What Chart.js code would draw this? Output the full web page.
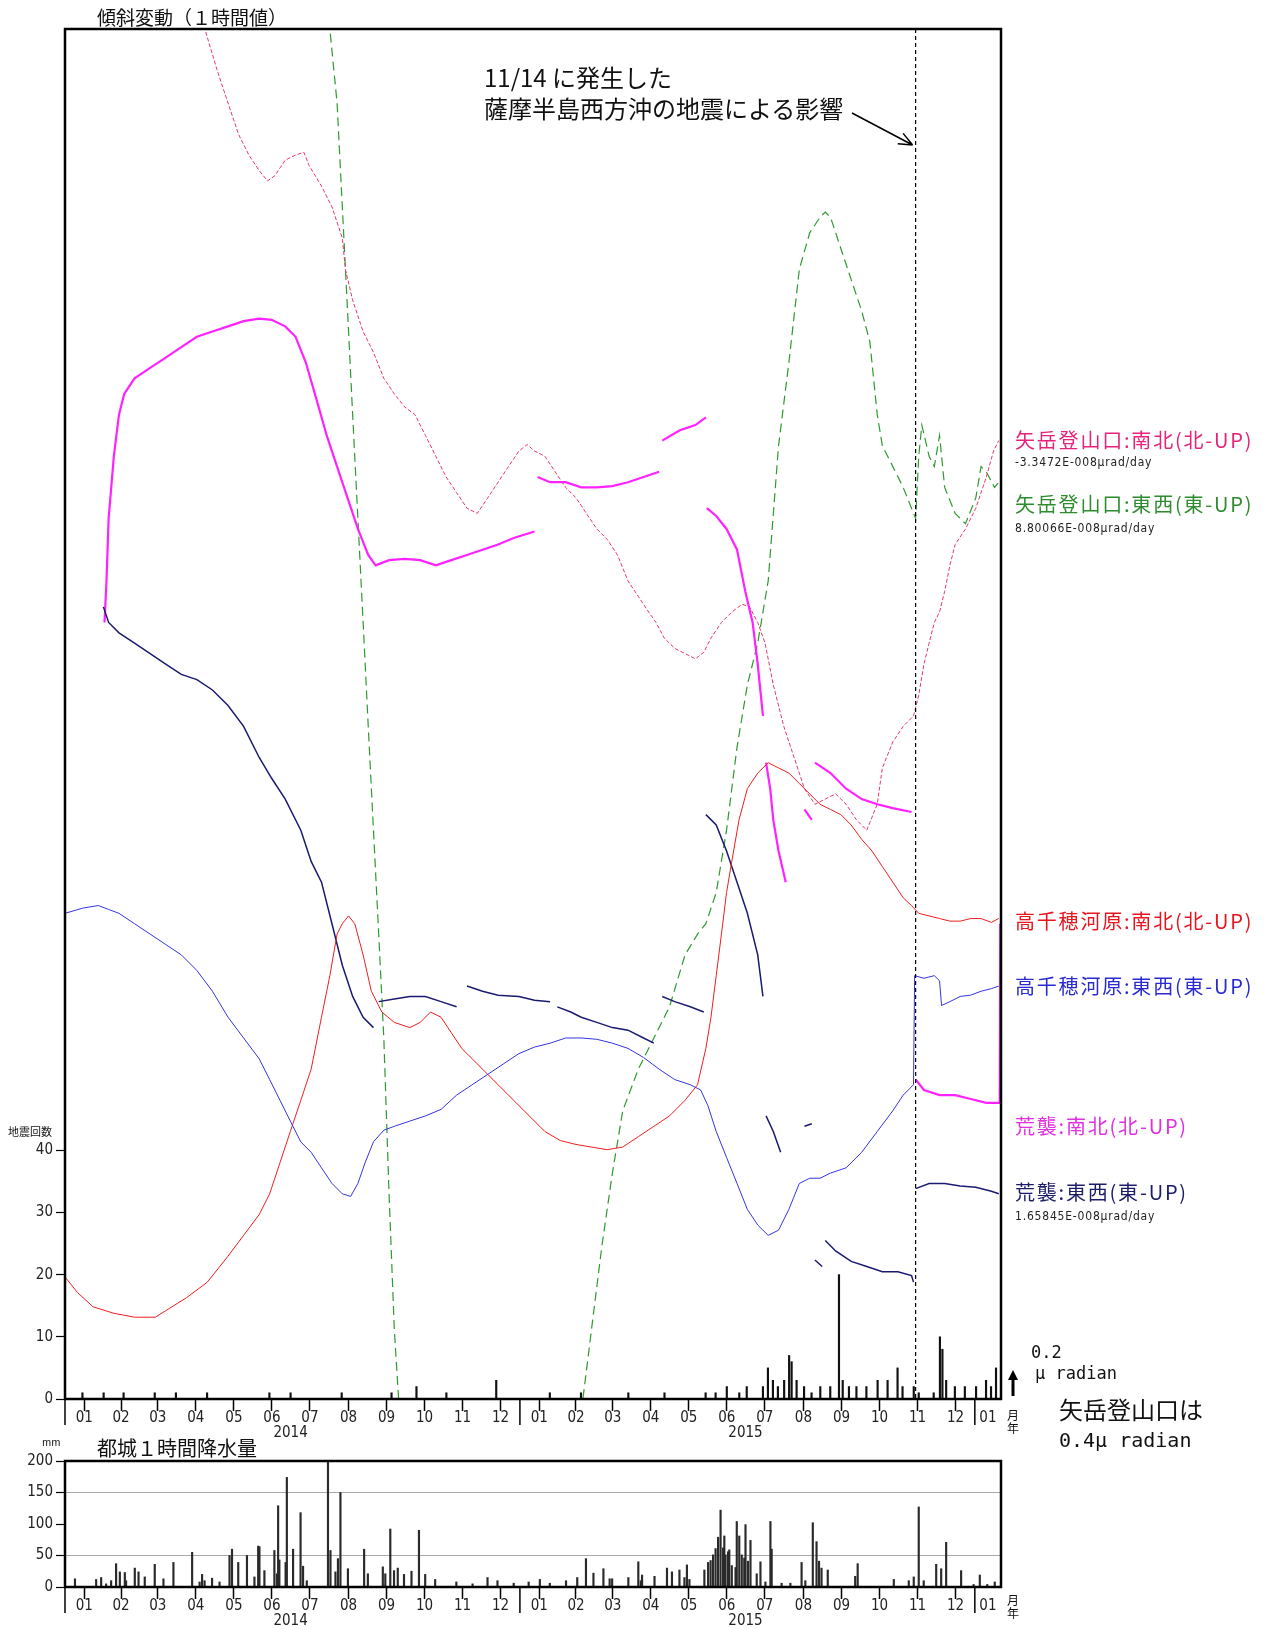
<!DOCTYPE html>
<html>
<head>
<meta charset="utf-8">
<script src="https://cdn.jsdelivr.net/npm/chart.js@4.4.1/dist/chart.umd.min.js"></script>
<style>
  body { margin: 0; background: #fff; width: 1265px; height: 1629px; position: relative; overflow: hidden;
         font-family: "Noto Sans CJK JP", sans-serif; color: #111; }
  canvas { position: absolute; left: 0; }
  .t { position: absolute; white-space: nowrap; line-height: 1; }
  .lg { font-size: 20px; letter-spacing: 1.8px; }
  .sub { font-family: "DejaVu Sans Condensed", sans-serif; font-size: 12px; letter-spacing: 0.8px; color: #222; }
</style>
</head>
<body>
<canvas id="tilt" width="1265" height="1445" style="top:0"></canvas>
<canvas id="rain" width="1265" height="189" style="top:1440px"></canvas>

<div class="t" style="left:97px;top:7px;font-size:19px;">傾斜変動（１時間値）</div>
<div class="t" style="left:484px;top:65px;font-size:24px;">11/14 に発生した</div>
<div class="t" style="left:484px;top:96px;font-size:24px;">薩摩半島西方沖の地震による影響</div>

<div class="t lg" style="left:1015px;top:430px;color:#e6237a;">矢岳登山口:南北(北-UP)</div>
<div class="t sub" style="left:1015px;top:456px;">-3.3472E-008μrad/day</div>
<div class="t lg" style="left:1015px;top:494px;color:#2e8b2e;">矢岳登山口:東西(東-UP)</div>
<div class="t sub" style="left:1015px;top:522px;">8.80066E-008μrad/day</div>
<div class="t lg" style="left:1015px;top:911px;color:#e8141e;">高千穂河原:南北(北-UP)</div>
<div class="t lg" style="left:1015px;top:976px;color:#2a2ad0;">高千穂河原:東西(東-UP)</div>
<div class="t lg" style="left:1015px;top:1116px;color:#e030e0;">荒襲:南北(北-UP)</div>
<div class="t lg" style="left:1015px;top:1182px;color:#1c1c6a;">荒襲:東西(東-UP)</div>
<div class="t sub" style="left:1015px;top:1210px;">1.65845E-008μrad/day</div>

<div class="t" style="left:8px;top:1126px;font-size:11px;">地震回数</div>
<div class="t" style="left:1007px;top:1408px;font-size:12px;line-height:13px;">月<br>年</div>
<div class="t" style="left:1031px;top:1344px;font-size:17px;font-family:'DejaVu Sans Mono',monospace;">0.2</div>
<div class="t" style="left:1035px;top:1365px;font-size:17px;font-family:'DejaVu Sans Mono',monospace;">μ radian</div>
<div class="t" style="left:1059px;top:1397px;font-size:24px;">矢岳登山口は</div>
<div class="t" style="left:1059px;top:1430px;font-size:20px;font-family:'DejaVu Sans Mono',monospace;">0.4μ radian</div>

<div class="t" style="left:42px;top:1437px;font-size:10px;">mm</div>
<div class="t" style="left:97px;top:1438px;font-size:20px;">都城１時間降水量</div>
<div class="t" style="left:1007px;top:1593px;font-size:12px;line-height:13px;">月<br>年</div>

<script>
// days are counted from 2014-01-01
const monthStarts = [0, 31, 59, 90, 120, 151, 181, 212, 243, 273, 304, 334,
                     365, 396, 424, 455, 485, 516, 546, 577, 608, 638, 669, 699, 730];
const monthNames = ['01','02','03','04','05','06','07','08','09','10','11','12',
                    '01','02','03','04','05','06','07','08','09','10','11','12','01'];
const yearMids = [181, 546];
const yearNames = ['2014', '2015'];
const yearStarts = [0, 365, 730];
const dayMax = 751;
const quakeDay = 682.5;   // 2015-11-14
const tiltMax = 10.55;    // micro radian span of the plot
const countMax = 220.3;
const countTicks = [0, 10, 20, 30, 40];
const rainTicks = [0, 50, 100, 150, 200];

// tilt, [day, micro radian offset]
const yatakeNS = [[107.5,10.8],[112.5,10.54],[122.5,10.22],[130.8,9.98],[139.2,9.74],[147.5,9.58],[155.8,9.46],
  [162.5,9.38],[168.3,9.42],[176.7,9.54],[185,9.58],[191.7,9.6],[195.8,9.5],[205.8,9.34],[214.2,9.18],[222.5,8.94],
  [225,8.7],[230.8,8.46],[239.2,8.22],[247.5,8.06],[255.8,7.86],[264.2,7.74],[272.5,7.64],[280.8,7.58],[289.2,7.42],
  [297.5,7.26],[305.8,7.1],[314.2,6.98],[322.5,6.86],[330.8,6.82],[339.2,6.94],[347.5,7.06],[355.8,7.18],[364.2,7.3],
  [370.8,7.35],[376.7,7.3],[385,7.26],[393.3,7.14],[401.7,7.02],[410,6.94],[418.3,6.82],[426.7,6.7],[435,6.62],
  [443.3,6.5],[451.7,6.3],[460,6.18],[468.3,6.06],[474.2,5.98],[480.8,5.86],[489.2,5.78],[497.5,5.74],[505.8,5.7],
  [512.5,5.75],[518.3,5.86],[526.7,5.98],[535,6.06],[543.3,6.12],[549.2,6.1],[555.8,5.98],[561.7,5.82],[568.3,5.5],
  [576.7,5.18],[585,4.94],[593.3,4.7],[601.7,4.58],[610,4.62],[618.3,4.66],[626.7,4.58],[635,4.46],[643.3,4.38],
  [651.7,4.58],[655.8,4.86],[664.2,5.06],[672.5,5.18],[680.8,5.26],[685,5.42],[689.2,5.66],[693.3,5.82],[697.5,5.98],
  [701.7,6.06],[705.8,6.22],[710,6.42],[714.2,6.58],[722.5,6.7],[730.8,6.86],[739.2,7.1],[745,7.3],[749.2,7.38]];

const yatakeEW = [[210.8,10.62],[212.5,10.55],[218.3,9.98],[222.5,9.18],[226.7,8.38],[230.8,7.58],[235,6.78],
  [239.2,5.98],[243.3,5.18],[247.5,4.38],[251.7,3.58],[255.8,2.78],[260,1.58],[264.2,0.54],[268.3,-0.1],[300,null],
  [414.2,-0.1],[415.8,0.02],[422.5,0.54],[430.8,1.18],[439.2,1.74],[447.5,2.22],[460,2.54],[472.5,2.78],[485,3.02],
  [497.5,3.42],[507.5,3.58],[514.2,3.66],[522.5,3.9],[530.8,4.38],[539.2,5.02],[547.5,5.5],[555.8,5.82],[564.2,6.3],
  [572.5,7.34],[580.8,7.98],[589.2,8.7],[597.5,8.98],[605.8,9.1],[610,9.14],[614.2,9.1],[622.5,8.86],[630.8,8.62],
  [639.2,8.38],[645.8,8.14],[651.7,7.58],[655.8,7.34],[664.2,7.18],[672.5,7.02],[679.2,6.86],[682.5,6.78],[685,7.26],
  [687.5,7.5],[693.3,7.26],[697.5,7.18],[701.7,7.42],[705.8,7.02],[714.2,6.82],[722.5,6.74],[730.8,6.94],[735,7.18],
  [739.2,7.14],[745.8,7.02],[749.2,7.06]];

const takachihoNS = [[0,0.94],[10,0.82],[22.5,0.71],[39.2,0.66],[55.8,0.63],[72.5,0.63],[80.8,0.68],[97.5,0.78],
  [114.2,0.9],[130.8,1.1],[143.3,1.26],[155.8,1.42],[164.2,1.58],[172.5,1.82],[180.8,2.06],[189.2,2.3],[197.5,2.54],
  [205.8,2.94],[212.5,3.26],[218.3,3.58],[222.5,3.66],[227.5,3.72],[232.5,3.66],[239.2,3.42],[245.8,3.14],[254.2,2.98],
  [264.2,2.9],[276.7,2.86],[285,2.9],[293.3,2.98],[301.7,2.94],[310,2.82],[318.3,2.7],[326.7,2.62],[335,2.54],
  [347.5,2.42],[360,2.3],[372.5,2.18],[385,2.06],[397.5,1.99],[410,1.96],[422.5,1.94],[435,1.92],[447.5,1.94],
  [460,2.02],[472.5,2.1],[485,2.18],[497.5,2.3],[507.5,2.42],[514.2,2.7],[518.3,2.94],[522.5,3.26],[526.7,3.58],
  [530.8,3.9],[535,4.14],[540.8,4.46],[547.5,4.7],[555.8,4.82],[564.2,4.9],[572.5,4.86],[580.8,4.82],[589.2,4.74],
  [597.5,4.66],[605.8,4.58],[614.2,4.54],[622.5,4.5],[630.8,4.42],[639.2,4.31],[647.5,4.22],[655.8,4.1],[664.2,3.98],
  [672.5,3.86],[679.2,3.8],[685,3.74],[693.3,3.72],[701.7,3.7],[710,3.68],[718.3,3.68],[726.7,3.7],[735,3.7],
  [743.3,3.67],[749.2,3.7]];

const takachihoEW = [[0,3.74],[14.2,3.78],[26.7,3.8],[35,3.77],[43.3,3.74],[55.8,3.66],[68.3,3.58],[80.8,3.5],
  [93.3,3.42],[105.8,3.3],[118.3,3.14],[130.8,2.94],[143.3,2.78],[155.8,2.62],[164.2,2.46],[172.5,2.3],[180.8,2.14],
  [189.2,1.98],[197.5,1.9],[205.8,1.78],[214.2,1.66],[222.5,1.58],[229.2,1.56],[235,1.66],[240.8,1.82],[247.5,1.98],
  [255.8,2.07],[264.2,2.1],[276.7,2.14],[289.2,2.18],[301.7,2.23],[314.2,2.34],[326.7,2.42],[339.2,2.5],[351.7,2.58],
  [364.2,2.66],[376.7,2.71],[389.2,2.74],[401.7,2.78],[414.2,2.78],[426.7,2.77],[439.2,2.74],[451.7,2.7],[464.2,2.63],
  [476.7,2.54],[489.2,2.46],[501.7,2.42],[510,2.38],[515.8,2.26],[522.5,2.06],[530.8,1.86],[539.2,1.66],[547.5,1.46],
  [555.8,1.34],[564.2,1.26],[572.5,1.3],[580.8,1.46],[589.2,1.66],[597.5,1.7],[605.8,1.7],[614.2,1.74],[626.7,1.78],
  [639.2,1.9],[651.7,2.06],[664.2,2.22],[672.5,2.34],[680.8,2.42],[681.7,3.26],[689.2,3.24],[697.5,3.26],[701.7,3.22],
  [703.3,3.03],[710,3.06],[718.3,3.1],[726.7,3.11],[735,3.14],[743.3,3.16],[749.2,3.18]];

const arasouNS = [[31.7,5.98],[33.3,6.3],[35,6.78],[39.2,7.26],[43.3,7.58],[47.5,7.74],[55.8,7.86],[68.3,7.94],
  [80.8,8.02],[93.3,8.1],[105.8,8.18],[118.3,8.22],[130.8,8.26],[143.3,8.3],[155.8,8.32],[165.8,8.31],[176.7,8.26],
  [185,8.18],[193.3,7.98],[201.7,7.7],[210,7.42],[218.3,7.18],[226.7,6.94],[235,6.7],[243.3,6.5],[249.2,6.42],
  [260,6.46],[272.5,6.47],[285,6.46],[297.5,6.42],[310,6.46],[322.5,6.5],[335,6.54],[347.5,6.58],[360,6.63],
  [376.7,6.68],[377.5,null],[379.2,7.1],[389.2,7.06],[401.7,7.06],[414.2,7.02],[426.7,7.02],[439.2,7.03],[451.7,7.06],
  [464.2,7.1],[476.7,7.14],[478,null],[479.2,7.38],[493.3,7.46],[505.8,7.5],[514.2,7.56],[514.6,null],[515,6.86],
  [522.5,6.8],[530.8,6.7],[539.2,6.54],[545.8,6.22],[551.7,5.98],[555.8,5.66],[560,5.26],[561,null],[562.5,4.9],
  [565.8,4.7],[568.3,4.46],[572.5,4.22],[578.3,3.98],[580,null],[593.3,4.54],[599.2,4.46],[600.5,null],[601.7,4.9],
  [614.2,4.82],[626.7,4.7],[639.2,4.62],[651.7,4.58],[664.2,4.55],[679.2,4.52],[681,null],[682.5,2.46],[689.2,2.38],
  [701.7,2.34],[714.2,2.34],[726.7,2.31],[739.2,2.28],[747.5,2.28],[750,2.28],[750.4,3.66]];

const arasouEW = [[30.8,6.1],[35,5.98],[43.3,5.9],[55.8,5.82],[68.3,5.74],[80.8,5.66],[93.3,5.58],[105.8,5.54],
  [118.3,5.46],[130.8,5.34],[143.3,5.18],[155.8,4.94],[165.8,4.78],[176.7,4.62],[189.2,4.38],[197.5,4.14],[205.8,3.98],
  [214.2,3.66],[222.5,3.34],[230.8,3.1],[239.2,2.94],[247.5,2.86],[249,null],[251.7,3.06],[264.2,3.08],[276.7,3.1],
  [289.2,3.1],[301.7,3.06],[314.2,3.02],[316,null],[322.5,3.18],[335,3.14],[347.5,3.11],[364.2,3.1],[376.7,3.07],
  [389.2,3.06],[391,null],[395,3.02],[405.8,2.98],[414.2,2.94],[426.7,2.9],[439.2,2.86],[451.7,2.84],[464.2,2.78],
  [472.5,2.74],[474,null],[479.2,3.1],[489.2,3.06],[501.7,3.02],[512.5,2.98],[513.5,null],[514.2,4.5],[522.5,4.42],
  [530.8,4.22],[539.2,3.98],[547.5,3.74],[555.8,3.42],[560,3.1],[561,null],[562.5,2.18],[568.3,2.06],[574.2,1.9],
  [575,null],[593.3,2.1],[599.2,2.12],[600,null],[601.7,1.07],[607.5,1.02],[608.5,null],[610,1.22],[618.3,1.14],
  [630.8,1.06],[643.3,1.02],[655.8,0.98],[668.3,0.98],[679.2,0.95],[680.8,0.9],[681.5,null],[682.5,1.62],[693.3,1.66],
  [705.8,1.66],[718.3,1.64],[730.8,1.63],[743.3,1.6],[749.2,1.58]];

// earthquake counts per day, [day, count]
const quakeCounts = [[14,1],[31,1],[47,1],[72,1],[89,1],[114,1],[164,1],[181,1],[222,1],[262,1],[282,2],[306,1],
  [346,3],[389,1],[414,1],[452,1],[481,1],[514,1],[522,1],[531,2],[541,1],[547,2],[560,2],[564,5],[568,3],[572,2],
  [577,3],[581,7],[583,6],[587,3],[593,2],[599,1],[606,2],[614,2],[621,20],[624,3],[629,2],[635,2],[643,2],[652,3],
  [660,3],[668,5],[672,2],[681,2],[685,1],[697,1],[702,10],[704,8],[707,3],[714,2],[722,2],[731,2],[739,3],[743,2],[747,5]];

// Miyakonojo hourly rainfall, [day, mm]
const rainMm = [[8,13],[25,12],[29,15],[33,5],[37,10],[41,37],[44,24],[48,23],[49,10],[56,30],[59,24],[64,16],
  [72,36],[79,13],[87,39],[102,55],[108,8],[110,20],[112,10],[118,14],[124,8],[132,50],[134,60],[139,39],[146,50],
  [152,16],[155,65],[156,64],[160,26],[168,58],[170,21],[171,129],[172,43],[177,39],[178,174],[183,60],[189,118],
  [191,33],[194,10],[211,200],[213,58],[217,24],[219,45],[221,150],[227,29],[240,60],[243,21],[255,32],[257,21],
  [261,92],[264,26],[267,30],[272,20],[278,25],[284,90],[289,20],[297,12],[314,8],[327,5],[339,15],[347,10],[360,6],
  [372,8],[381,12],[389,6],[402,10],[411,15],[418,45],[424,22],[432,29],[437,13],[439,13],[452,15],[460,40],[462,10],
  [463,19],[473,17],[483,30],[487,24],[493,27],[497,15],[499,35],[501,12],[513,27],[516,39],[518,42],[520,51],
  [522,61],[524,79],[526,122],[528,62],[529,81],[530,51],[532,56],[533,59],[535,34],[538,31],[539,104],[541,81],
  [543,51],[545,46],[546,99],[548,41],[550,74],[555,21],[558,40],[562,8],[566,104],[567,60],[575,6],[582,6],[591,39],
  [594,10],[600,102],[603,72],[605,41],[607,30],[612,27],[634,17],[636,37],[665,12],[677,10],[681,16],[685,127],
  [689,10],[699,36],[703,29],[707,71],[719,26],[729,4],[734,19],[740,4],[746,8]];

const toXY = arr => arr.map(([x, y]) => ({ x: x, y: y }));

// month axis: boundary ticks carry the tick mark, mid-month ticks carry the label
const xTicks = [];
monthStarts.forEach(d => xTicks.push({ value: d, label: '', kind: 'edge' }));
monthStarts.forEach((d, i) => {
  const end = i + 1 < monthStarts.length ? monthStarts[i + 1] : dayMax;
  xTicks.push({ value: (d + end) / 2, label: monthNames[i], kind: 'mid' });
});
yearMids.forEach((d, i) => xTicks.push({ value: d, label: ['', yearNames[i]], kind: 'year' }));

const tickFont = { family: "'Liberation Sans Narrow', 'DejaVu Sans Condensed', sans-serif", size: 15, lineHeight: 1 };

function monthAxis(height) {
  return {
    type: 'linear', position: 'bottom', min: 0, max: dayMax, bounds: 'data', offset: false,
    afterBuildTicks: s => { s.ticks = xTicks.map(t => ({ value: t.value })); },
    afterFit: s => { s.height = height; },
    ticks: { autoSkip: false, maxRotation: 0, padding: 0, color: '#222', font: tickFont,
             callback: (v, i) => xTicks[i].label },
    grid: { drawOnChartArea: false, drawTicks: true, tickLength: 12, tickWidth: 1.5,
            tickColor: c => (c.tick && xTicks[c.index] && xTicks[c.index].kind === 'edge') ? '#000' : 'rgba(0,0,0,0)' },
    border: { display: false }
  };
}

function frame(ctx, a) {
  ctx.save();
  ctx.strokeStyle = '#000';
  ctx.lineWidth = 2.5;
  ctx.strokeRect(a.left, a.top, a.right - a.left, a.bottom - a.top);
  ctx.restore();
}

function longTicks(chart) {
  const ctx = chart.ctx, a = chart.chartArea, x = chart.scales.x;
  ctx.save();
  ctx.strokeStyle = '#000';
  ctx.lineWidth = 1.5;
  yearStarts.forEach(d => {
    const px = x.getPixelForValue(d);
    ctx.beginPath(); ctx.moveTo(px, a.bottom); ctx.lineTo(px, a.bottom + 26); ctx.stroke();
  });
  ctx.restore();
}

const tiltDecor = {
  id: 'tiltDecor',
  afterDraw(chart) {
    const ctx = chart.ctx, a = chart.chartArea;
    const qx = chart.scales.x.getPixelForValue(quakeDay);
    ctx.save();
    // 11/14 dashed line
    ctx.strokeStyle = '#000';
    ctx.lineWidth = 1.2;
    ctx.setLineDash([4, 3]);
    ctx.beginPath(); ctx.moveTo(qx, a.top); ctx.lineTo(qx, a.bottom); ctx.stroke();
    ctx.setLineDash([]);
    // annotation arrow
    const tx = qx - 3, ty = 145, fx = 852, fy = 113;
    const ang = Math.atan2(ty - fy, tx - fx);
    ctx.lineWidth = 1.5;
    ctx.beginPath(); ctx.moveTo(fx, fy); ctx.lineTo(tx, ty);
    ctx.moveTo(tx, ty); ctx.lineTo(tx - 15 * Math.cos(ang - 0.4), ty - 15 * Math.sin(ang - 0.4));
    ctx.moveTo(tx, ty); ctx.lineTo(tx - 15 * Math.cos(ang + 0.4), ty - 15 * Math.sin(ang + 0.4));
    ctx.stroke();
    // scale arrow (0.2 micro radian)
    const sx = 1013, yt = chart.scales.yt;
    const y0 = a.bottom - 3, y1 = y0 - (yt.getPixelForValue(0) - yt.getPixelForValue(0.2));
    ctx.lineWidth = 3;
    ctx.beginPath(); ctx.moveTo(sx, y0); ctx.lineTo(sx, y1 + 8); ctx.stroke();
    ctx.beginPath(); ctx.moveTo(sx - 5, y1 + 10); ctx.lineTo(sx + 5, y1 + 10); ctx.lineTo(sx, y1); ctx.closePath();
    ctx.fillStyle = '#000'; ctx.fill();
    ctx.restore();
    longTicks(chart);
    frame(ctx, a);
  }
};

const rainDecor = {
  id: 'rainDecor',
  afterDraw(chart) {
    longTicks(chart);
    frame(chart.ctx, chart.chartArea);
  }
};

function tiltLine(data, color, width, dash) {
  return { type: 'line', data: toXY(data), yAxisID: 'yt', borderColor: color, borderWidth: width,
           borderDash: dash, pointRadius: 0, spanGaps: false, tension: 0 };
}

new Chart(document.getElementById('tilt'), {
  type: 'line',
  data: {
    datasets: [
      { type: 'bar', data: toXY(quakeCounts), yAxisID: 'y', backgroundColor: '#111', barThickness: 1.5 },
      tiltLine(takachihoEW, '#3434e0', 1, []),
      tiltLine(takachihoNS, '#f01e1e', 1, []),
      tiltLine(arasouEW, '#1a1a70', 1.5, []),
      tiltLine(arasouNS, '#ff22ff', 2.2, []),
      tiltLine(yatakeNS, '#e8386e', 1, [4, 2]),
      tiltLine(yatakeEW, '#2e9a2e', 1.2, [9, 5])
    ]
  },
  options: {
    responsive: false, animation: false, events: [],
    layout: { padding: { top: 29, right: 264, left: 0, bottom: 0 } },
    plugins: { legend: { display: false }, tooltip: { enabled: false } },
    scales: {
      x: monthAxis(46),
      y: {
        type: 'linear', position: 'left', min: 0, max: countMax, bounds: 'data',
        afterBuildTicks: s => { s.ticks = countTicks.map(v => ({ value: v })); },
        afterFit: s => { s.width = 65; },
        ticks: { padding: 3, color: '#222', font: tickFont },
        grid: { drawOnChartArea: false, tickLength: 9, tickColor: '#000', tickWidth: 1.2 },
        border: { display: false }
      },
      yt: { type: 'linear', display: false, min: 0, max: tiltMax }
    }
  },
  plugins: [tiltDecor]
});

new Chart(document.getElementById('rain'), {
  type: 'bar',
  data: {
    datasets: [{ data: toXY(rainMm), backgroundColor: '#2a2a2a', barThickness: 1.5 }]
  },
  options: {
    responsive: false, animation: false, events: [],
    layout: { padding: { top: 21, right: 264, left: 0, bottom: 0 } },
    plugins: { legend: { display: false }, tooltip: { enabled: false } },
    scales: {
      x: monthAxis(42),
      y: {
        type: 'linear', position: 'left', min: 0, max: 200, bounds: 'data',
        afterBuildTicks: s => { s.ticks = rainTicks.map(v => ({ value: v })); },
        afterFit: s => { s.width = 65; },
        ticks: { padding: 3, color: '#222', font: tickFont },
        grid: { drawOnChartArea: true, tickLength: 9, tickColor: '#000', tickWidth: 1.2,
                color: c => (c.tick && (c.tick.value === 50 || c.tick.value === 150)) ? '#aaa' : 'rgba(0,0,0,0)' },
        border: { display: false }
      }
    }
  },
  plugins: [rainDecor]
});
</script>
</body>
</html>
